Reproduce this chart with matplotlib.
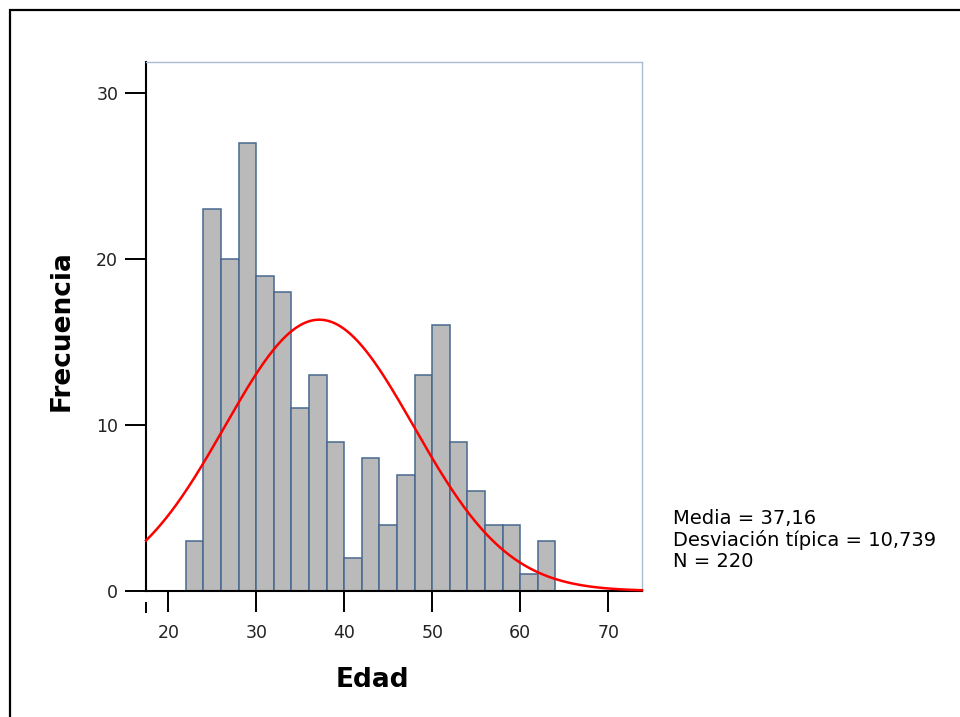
import numpy as np
import matplotlib
matplotlib.use('Agg')
import matplotlib.pyplot as plt
from matplotlib.patches import Rectangle
from matplotlib.lines import Line2D

# Histogram of ages (bins of 2 years starting at 22)
bin_starts = [22, 24, 26, 28, 30, 32, 34, 36, 38, 40, 42,
              44, 46, 48, 50, 52, 54, 56, 58, 60, 62]
counts = [3, 23, 20, 27, 19, 18, 11, 13, 9, 2, 8,
          4, 7, 13, 16, 9, 6, 4, 4, 1, 3]
bin_width = 2

media = 37.16
desv = 10.739
n_total = 220

x_ticks = [20, 30, 40, 50, 60, 70]
y_ticks = [0, 10, 20, 30]

plt.rcParams['font.family'] = ['DejaVu Sans']

fig = plt.figure(figsize=(9.6, 7.17), dpi=100)

# outer frame (open at right/bottom like the screenshot)
fig.add_artist(Rectangle((10 / 960, -0.5), 2, 1.5 - 10 / 717, transform=fig.transFigure,
                         fill=False, edgecolor='black', linewidth=1.6))

ax = fig.add_axes([146 / 960, 126 / 717, 496 / 960, 529 / 717])

ax.bar(bin_starts, counts, width=bin_width, align='edge',
       color='#bababa', edgecolor='#48688f', linewidth=1.1, zorder=2)

# fitted normal curve
xs = np.linspace(17.47, 73.83, 400)
ys = n_total * bin_width / (desv * np.sqrt(2 * np.pi)) * np.exp(-0.5 * ((xs - media) / desv) ** 2)
ax.plot(xs, ys, color='#ff0000', linewidth=1.8, zorder=3, clip_on=False)

ax.set_xlim(17.47, 73.83)
ax.set_ylim(0, 31.87)

ax.set_xticks(x_ticks)
ax.set_yticks(y_ticks)
ax.tick_params(axis='both', direction='out', length=15, width=1.4, colors='black',
               labelsize=12.5, pad=5)
ax.tick_params(axis='x', pad=9)
ax.tick_params(labelcolor='#222222')

for side in ['left', 'bottom']:
    ax.spines[side].set_color('black')
    ax.spines[side].set_linewidth(1.5)
for side in ['top', 'right']:
    ax.spines[side].set_color('#a9bdd2')
    ax.spines[side].set_linewidth(1.0)

# small stub below the axis origin
ax.add_line(Line2D([0, 0], [-12 / 529, -21 / 529], transform=ax.transAxes,
                   color='black', linewidth=1.4, clip_on=False))

ax.set_xlabel('Edad', fontsize=19, fontweight='bold')
ax.set_ylabel('Frecuencia', fontsize=19, fontweight='bold')
ax.xaxis.set_label_coords((372 - 146) / 496, -(680 - 591) / 529)
ax.yaxis.set_label_coords(-(146 - 62) / 496, (591 - 331) / 529)
ax.xaxis.label.set_va('center')
ax.yaxis.label.set_va('center')

fig.text(673 / 960, 1 - 540 / 717,
         f'Media = {media:.2f}'.replace('.', ',') + '\n'
         + f'Desviación típica = {desv:.3f}'.replace('.', ',') + '\n'
         + f'N = {n_total}',
         fontsize=14, va='center', ha='left', linespacing=1.15)

fig.savefig('out.png', dpi=100)
